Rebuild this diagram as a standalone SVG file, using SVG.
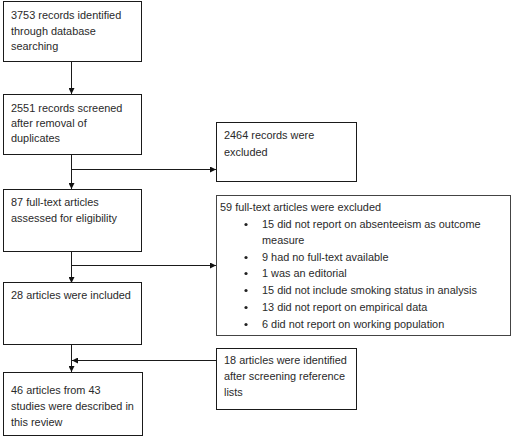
<svg xmlns="http://www.w3.org/2000/svg" width="516" height="437" viewBox="0 0 516 437">
<defs>
<marker id="ah" viewBox="0 0 6 6" refX="6" refY="3" markerWidth="6" markerHeight="6" orient="auto" markerUnits="userSpaceOnUse">
<path d="M0,0 L6,3 L0,6 Z" fill="#111"/>
</marker>
</defs>
<style>
.box{fill:#fff;stroke:#1a1a1a;stroke-width:1}
.t{font-family:"Liberation Sans",Arial,sans-serif;font-size:10.9px;fill:#2a2a2a}
.c{fill:none;stroke:#1a1a1a;stroke-width:1}
.b{fill:#222}
</style>
<rect width="516" height="437" fill="#fff"/>
<g id="connectors">
<line class="c" x1="71.5" y1="62" x2="71.5" y2="94" marker-end="url(#ah)"/>
<line class="c" x1="71.5" y1="155" x2="71.5" y2="189" marker-end="url(#ah)"/>
<line class="c" x1="71.5" y1="169.5" x2="216" y2="169.5" marker-end="url(#ah)"/>
<line class="c" x1="71.5" y1="251" x2="71.5" y2="283" marker-end="url(#ah)"/>
<line class="c" x1="71.5" y1="265.5" x2="216" y2="265.5" marker-end="url(#ah)"/>
<line class="c" x1="71.5" y1="345" x2="71.5" y2="372" marker-end="url(#ah)"/>
<line class="c" x1="216" y1="360.5" x2="72" y2="360.5" marker-end="url(#ah)"/>
</g>
<g id="n1">
<rect class="box" x="3.5" y="1.5" width="138" height="60"/>
<text class="t" x="11" y="19">3753 records identified</text>
<text class="t" x="11" y="35">through database</text>
<text class="t" x="11" y="50">searching</text>
</g>
<g id="n2">
<rect class="box" x="3.5" y="94.5" width="138" height="60"/>
<text class="t" x="11" y="112">2551 records screened</text>
<text class="t" x="11" y="127">after removal of</text>
<text class="t" x="11" y="142">duplicates</text>
</g>
<g id="n3">
<rect class="box" x="216.5" y="122.5" width="140" height="59"/>
<text class="t" x="224" y="139">2464 records were</text>
<text class="t" x="224" y="156">excluded</text>
</g>
<g id="n4">
<rect class="box" x="3.5" y="189.5" width="138" height="62"/>
<text class="t" x="11" y="206">87 full-text articles</text>
<text class="t" x="11" y="222">assessed for eligibility</text>
</g>
<g id="n5">
<rect class="box" x="216.5" y="195.5" width="294" height="140" style="stroke:#444"/>
<text class="t" x="220" y="211">59 full-text articles were excluded</text>
<circle class="b" cx="246" cy="224.5" r="1.6"/>
<text class="t" x="262" y="228">15 did not report on absenteeism as outcome</text>
<text class="t" x="262" y="244">measure</text>
<circle class="b" cx="246" cy="257.5" r="1.6"/>
<text class="t" x="262" y="261">9 had no full-text available</text>
<circle class="b" cx="246" cy="273.5" r="1.6"/>
<text class="t" x="262" y="277">1 was an editorial</text>
<circle class="b" cx="246" cy="290.5" r="1.6"/>
<text class="t" x="262" y="294">15 did not include smoking status in analysis</text>
<circle class="b" cx="246" cy="307.5" r="1.6"/>
<text class="t" x="262" y="311">13 did not report on empirical data</text>
<circle class="b" cx="246" cy="324.5" r="1.6"/>
<text class="t" x="262" y="328">6 did not report on working population</text>
</g>
<g id="n6">
<rect class="box" x="3.5" y="282.5" width="138" height="62"/>
<text class="t" x="11" y="299">28 articles were included</text>
</g>
<g id="n7">
<rect class="box" x="216.5" y="348.5" width="140" height="61"/>
<text class="t" x="224" y="364">18 articles were identified</text>
<text class="t" x="224" y="380">after screening reference</text>
<text class="t" x="224" y="396">lists</text>
</g>
<g id="n8">
<rect class="box" x="3.5" y="372.5" width="139" height="63"/>
<text class="t" x="11" y="394">46 articles from 43</text>
<text class="t" x="11" y="410">studies were described in</text>
<text class="t" x="11" y="426">this review</text>
</g>
</svg>
